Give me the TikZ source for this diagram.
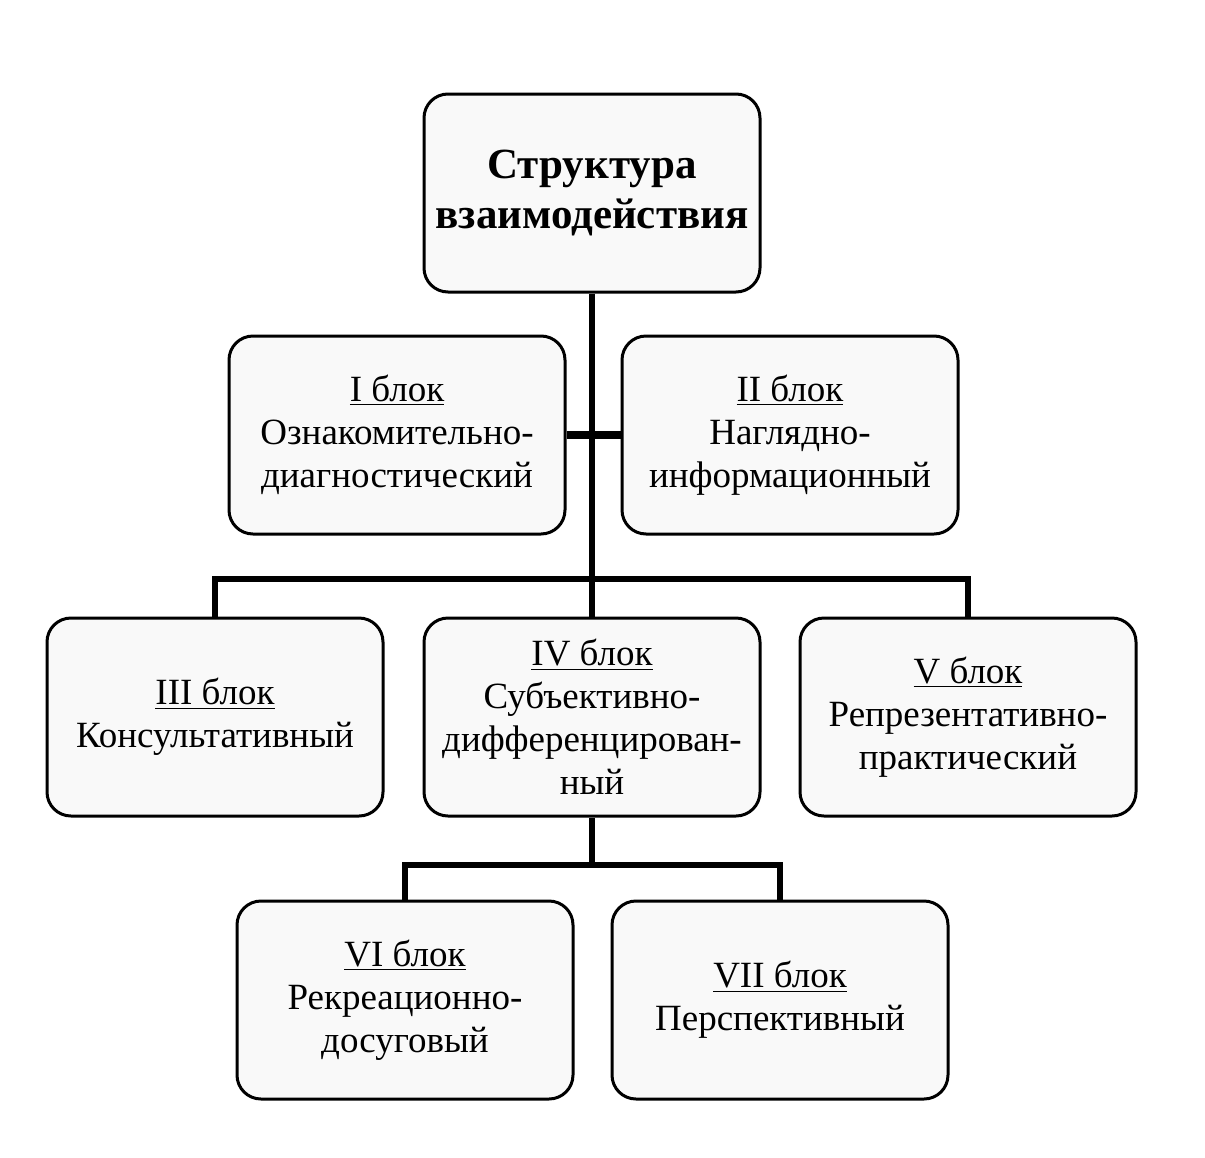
\documentclass[tikz,border=0pt]{standalone}
\usepackage{fontspec}
\setmainfont{Liberation Serif}
\usetikzlibrary{shapes}

\tikzset{
  blockbox/.style={draw, rounded corners=12pt, line width=1.5pt, fill=gray!5,
    minimum width=168pt, minimum height=99pt, align=center, inner sep=2pt,
    font=\fontsize{18.5}{21.5}\selectfont},
  titlebox/.style={blockbox, font=\fontsize{21.5}{25}\selectfont\bfseries},
  link/.style={line width=2.6pt}
}

\begin{document}
\begin{tikzpicture}[x=0.5pt,y=0.5pt,yscale=-1,xscale=1]
\useasboundingbox (0,0) rectangle (1205,1157);

% Text Node
\node [titlebox] (top) at (592,193) {Структура\\взаимодействия};
% Text Node
\node [blockbox] (b1) at (397,435) {\underline{I блок}\\Ознакомительно-\\диагностический};
% Text Node
\node [blockbox] (b2) at (790,435) {\underline{II блок}\\Наглядно-\\информационный};
% Text Node
\node [blockbox] (b3) at (215,717) {\underline{III блок}\\Консультативный};
% Text Node
\node [blockbox] (b4) at (592,717) {\underline{IV блок}\\Субъективно-\\дифференцирован-\\ный};
% Text Node
\node [blockbox] (b5) at (968,717) {\underline{V блок}\\Репрезентативно-\\практический};
% Text Node
\node [blockbox] (b6) at (405,1000) {\underline{VI блок}\\Рекреационно-\\досуговый};
% Text Node
\node [blockbox] (b7) at (780,1000) {\underline{VII блок}\\Перспективный};

%Straight Lines
\coordinate (bar1) at (592,579);
\coordinate (bar2) at (592,865);
\draw [link] (top.south) -- (b4.north);
\draw [link, line width=3.6pt] (b1.east) -- (b2.west);
\draw [link] (b3.north) |- (bar1) -| (b5.north);
\draw [link] (b4.south) -- (bar2);
\draw [link] (b6.north) |- (bar2) -| (b7.north);

\end{tikzpicture}
\end{document}
